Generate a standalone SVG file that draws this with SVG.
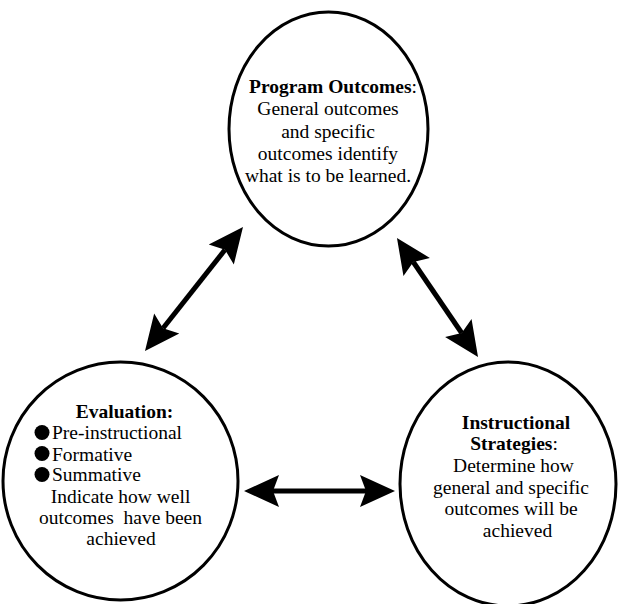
<svg xmlns="http://www.w3.org/2000/svg" width="618" height="604" viewBox="0 0 618 604">
<defs>
<style>
.node{fill:#fff;stroke:#000;stroke-width:3}
.t{font-family:"Liberation Serif","Times New Roman",serif;font-size:19.5px;fill:#000;text-anchor:middle}
.b{font-weight:bold}
.l{text-anchor:start}
.shaft{stroke:#000;stroke-width:5;fill:none;marker-start:url(#ah);marker-end:url(#ah)}
</style>
<marker id="ah" markerUnits="userSpaceOnUse" viewBox="-8 -18 40 36" refX="0" refY="0" markerWidth="40" markerHeight="36" orient="auto-start-reverse">
<path d="M0,0 L-6,-16 L29,0 L-6,16 Z" fill="#000"/>
</marker>
</defs>
<rect width="618" height="604" fill="#fff"/>
<g id="program-outcomes">
<ellipse class="node" cx="328.5" cy="129" rx="99.5" ry="117"/>
<text class="t" x="333" y="93"><tspan class="b">Program Outcomes</tspan>:</text>
<text class="t" x="328" y="115">General outcomes</text>
<text class="t" x="328" y="137.5">and specific</text>
<text class="t" x="328" y="159.5">outcomes identify</text>
<text class="t" x="328" y="181.5">what is to be learned.</text>
</g>
<g id="evaluation">
<ellipse class="node" cx="120.5" cy="481" rx="117.5" ry="119"/>
<text class="t b" x="124.5" y="417.5">Evaluation:</text>
<circle cx="42" cy="432.5" r="7.5"/>
<circle cx="42" cy="453.5" r="7.5"/>
<circle cx="42" cy="474.5" r="7.5"/>
<text class="t l" x="52" y="439">Pre-instructional</text>
<text class="t l" x="52" y="460.5">Formative</text>
<text class="t l" x="52" y="481">Summative</text>
<text class="t" x="120.5" y="502.5">Indicate how well</text>
<text class="t" x="120.5" y="524" xml:space="preserve">outcomes  have been</text>
<text class="t" x="121" y="544.5">achieved</text>
</g>
<g id="instructional-strategies">
<ellipse class="node" cx="508" cy="484" rx="108" ry="122"/>
<text class="t b" x="516" y="428.5">Instructional</text>
<text class="t" x="514" y="450"><tspan class="b">Strategies</tspan>:</text>
<text class="t" x="513.5" y="471.5">Determine how</text>
<text class="t" x="511" y="493.5">general and specific</text>
<text class="t" x="511" y="515">outcomes will be</text>
<text class="t" x="517.5" y="536.5">achieved</text>
</g>
<g id="connectors">
<line class="shaft" x1="163" y1="328.2" x2="225" y2="249.8"/>
<line class="shaft" x1="413.3" y1="262" x2="461.7" y2="333"/>
<line class="shaft" x1="273" y1="491" x2="366" y2="491"/>
</g>
</svg>
